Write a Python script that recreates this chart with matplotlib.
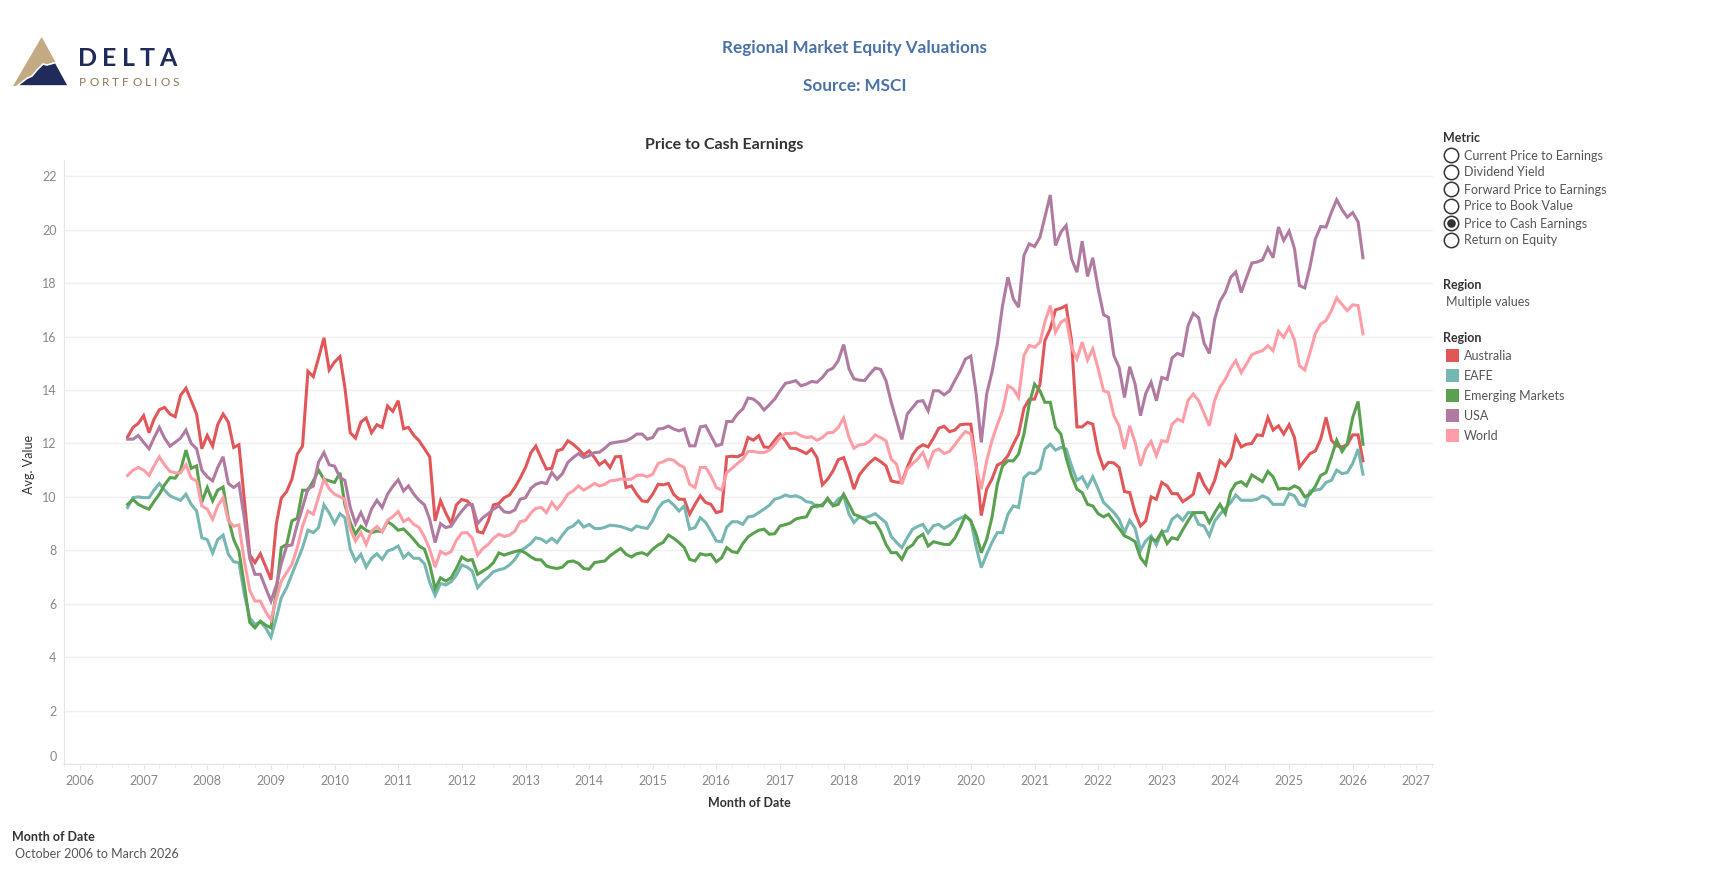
import numpy as np
import pandas as pd
import matplotlib
matplotlib.use('Agg')
import matplotlib.pyplot as plt
import matplotlib.dates as mdates
from matplotlib.patches import Polygon, Circle, Rectangle
from matplotlib.transforms import ScaledTranslation

plt.rcParams['font.family'] = ['Lato', 'DejaVu Sans']

# monthly values, October 2006 .. March 2026
months = pd.date_range('2006-10-01', '2026-03-01', freq='MS')

australia = [
    12.25, 12.6, 12.75, 13.04, 12.4, 12.9, 13.26, 13.35, 13.1, 13.0,
    13.8, 14.07, 13.6, 13.1, 11.8, 12.3, 11.9, 12.7, 13.1, 12.8,
    11.85, 11.95, 9.9, 7.83, 7.54, 7.87, 7.4, 6.9, 9.0, 9.95,
    10.2, 10.66, 11.6, 11.9, 14.7, 14.5, 15.2, 15.95, 14.75, 15.05,
    15.25, 14.1, 12.4, 12.2, 12.8, 12.95, 12.4, 12.7, 12.6, 13.4,
    13.2, 13.6, 12.55, 12.6, 12.3, 12.1, 11.8, 11.5, 9.1, 9.85,
    9.4, 9.0, 9.7, 9.9, 9.85, 9.65, 8.7, 8.65, 9.1, 9.7,
    9.75, 9.97, 10.07, 10.35, 10.7, 11.1, 11.65, 11.9, 11.45, 11.04,
    11.07, 11.72, 11.79, 12.1, 11.97, 11.79, 11.57, 11.72, 11.47, 11.2,
    11.35, 11.1, 11.5, 11.51, 10.35, 10.41, 10.1, 9.85, 9.82, 10.1,
    10.47, 10.45, 10.5, 10.1, 9.91, 9.91, 9.35, 9.72, 10.04, 9.79,
    9.72, 9.41, 9.47, 11.5, 11.52, 11.5, 11.6, 12.22, 12.12, 12.29,
    11.87, 11.85, 12.12, 12.35, 12.1, 11.82, 11.81, 11.72, 11.62, 11.79,
    11.47, 10.45, 10.66, 10.97, 11.39, 11.47, 10.9, 10.29, 10.82, 11.07,
    11.29, 11.45, 11.32, 11.16, 10.6, 10.55, 10.54, 11.1, 11.57, 11.82,
    11.95, 11.87, 12.2, 12.57, 12.64, 12.44, 12.5, 12.7, 12.72, 12.72,
    11.2, 9.3, 10.29, 10.66, 11.19, 11.29, 11.54, 11.97, 12.35, 13.32,
    13.65, 13.66, 14.22, 15.85, 16.29, 17.0, 17.06, 17.16, 15.85, 12.62,
    12.62, 12.79, 12.72, 11.66, 11.07, 11.29, 11.27, 11.1, 10.2, 10.16,
    9.41, 8.91, 9.1, 10.0, 9.91, 10.54, 10.41, 10.12, 10.12, 9.82,
    9.95, 10.1, 10.91, 10.45, 10.16, 10.62, 11.35, 11.16, 11.45, 12.26,
    11.87, 11.97, 12.0, 12.32, 12.29, 12.97, 12.5, 12.66, 12.35, 12.7,
    12.22, 11.1, 11.37, 11.62, 11.72, 12.16, 12.97, 12.12, 11.91, 11.87,
    11.95, 12.32, 12.32, 11.35]

eafe = [
    9.6, 9.97, 10.0, 9.97, 9.97, 10.25, 10.5, 10.25, 10.04, 9.95,
    9.87, 10.1, 9.72, 9.47, 8.47, 8.4, 7.9, 8.4, 8.57, 7.85,
    7.57, 7.54, 6.35, 5.47, 5.22, 5.32, 5.1, 4.75, 5.47, 6.22,
    6.6, 7.1, 7.6, 8.1, 8.75, 8.66, 8.85, 9.7, 9.4, 9.0,
    9.37, 9.22, 8.04, 7.6, 7.85, 7.37, 7.7, 7.87, 7.66, 7.97,
    8.04, 8.16, 7.72, 7.89, 7.7, 7.7, 7.5, 6.8, 6.31, 6.76,
    6.7, 6.82, 7.07, 7.45, 7.37, 7.22, 6.6, 6.82, 7.0, 7.2,
    7.27, 7.32, 7.45, 7.66, 7.97, 8.1, 8.26, 8.47, 8.42, 8.29,
    8.45, 8.29, 8.57, 8.82, 8.91, 9.1, 8.87, 8.97, 8.82, 8.81,
    8.86, 8.94, 8.92, 8.89, 8.82, 8.75, 8.91, 8.85, 8.82, 9.12,
    9.57, 9.79, 9.87, 9.7, 9.47, 9.66, 8.79, 8.85, 9.22, 9.04,
    8.72, 8.35, 8.32, 8.87, 9.07, 9.07, 8.97, 9.25, 9.28, 9.41,
    9.54, 9.69, 9.91, 9.97, 10.07, 10.01, 10.04, 9.97, 9.82, 9.79,
    9.62, 9.72, 9.9, 9.7, 9.91, 10.04, 9.35, 9.04, 9.25, 9.22,
    9.28, 9.37, 9.2, 9.04, 8.52, 8.29, 8.1, 8.47, 8.79, 8.89,
    8.97, 8.65, 8.92, 8.97, 8.82, 8.94, 9.1, 9.2, 9.29, 9.12,
    8.12, 7.35, 7.85, 8.29, 8.66, 8.66, 9.35, 9.66, 9.6, 10.72,
    10.9, 10.87, 11.04, 11.79, 11.97, 11.75, 11.85, 11.79, 11.16, 10.62,
    10.75, 10.37, 10.75, 10.29, 9.79, 9.62, 9.41, 9.16, 8.66, 9.12,
    8.82, 8.0, 8.35, 8.54, 8.2, 8.69, 8.72, 9.16, 9.32, 9.12,
    9.41, 9.41, 8.97, 8.91, 8.54, 9.1, 9.35, 9.57, 9.79, 10.07,
    9.87, 9.87, 9.87, 9.91, 10.04, 9.95, 9.72, 9.72, 9.72, 10.12,
    10.04, 9.72, 9.66, 10.22, 10.25, 10.29, 10.54, 10.62, 11.0, 10.87,
    10.91, 11.25, 11.79, 10.85]

emerging = [
    9.72, 9.9, 9.72, 9.62, 9.54, 9.82, 10.1, 10.45, 10.72, 10.7,
    11.0, 11.75, 11.07, 11.16, 9.8, 10.35, 9.85, 10.25, 10.37, 9.2,
    8.4, 7.97, 6.7, 5.3, 5.1, 5.35, 5.2, 5.1, 6.47, 8.1,
    8.22, 9.1, 9.2, 10.25, 10.25, 10.6, 11.0, 10.66, 10.6, 10.54,
    10.9, 9.7, 9.04, 8.6, 8.9, 8.75, 8.66, 8.72, 8.7, 9.07,
    8.94, 8.75, 8.8, 8.62, 8.4, 8.16, 8.04, 7.47, 6.57, 6.97,
    6.85, 6.97, 7.32, 7.75, 7.62, 7.65, 7.1, 7.22, 7.35, 7.54,
    7.9, 7.82, 7.89, 7.95, 8.0, 7.9, 7.75, 7.65, 7.64, 7.41,
    7.35, 7.32, 7.37, 7.57, 7.6, 7.51, 7.32, 7.29, 7.54, 7.57,
    7.6, 7.79, 7.94, 8.07, 7.85, 7.75, 7.87, 7.91, 7.82, 8.04,
    8.2, 8.29, 8.57, 8.45, 8.29, 8.1, 7.66, 7.6, 7.87, 7.82,
    7.85, 7.57, 7.72, 8.1, 7.95, 7.91, 8.25, 8.5, 8.64, 8.75,
    8.79, 8.6, 8.62, 8.91, 8.96, 9.02, 9.17, 9.22, 9.25, 9.6,
    9.69, 9.66, 9.95, 9.66, 9.72, 10.1, 9.72, 9.35, 9.27, 9.16,
    9.02, 9.04, 8.72, 8.22, 7.91, 7.91, 7.66, 8.07, 8.2, 8.47,
    8.6, 8.16, 8.32, 8.27, 8.22, 8.22, 8.45, 8.85, 9.29, 9.1,
    8.6, 7.91, 8.41, 9.22, 10.47, 11.16, 11.35, 11.35, 11.6, 12.35,
    13.47, 14.22, 13.97, 13.54, 13.54, 12.6, 12.35, 11.47, 10.79, 10.29,
    10.16, 9.72, 9.66, 9.37, 9.25, 9.35, 9.07, 8.82, 8.54, 8.45,
    8.32, 7.72, 7.47, 8.45, 8.35, 8.7, 8.25, 8.47, 8.41, 8.76,
    9.1, 9.41, 9.41, 9.41, 9.04, 9.41, 9.72, 9.37, 10.2, 10.5,
    10.57, 10.41, 10.82, 10.7, 10.57, 10.95, 10.75, 10.29, 10.32, 10.29,
    10.41, 10.32, 10.0, 10.1, 10.4, 10.8, 10.91, 11.5, 12.12, 11.7,
    12.0, 12.97, 13.57, 11.97]

usa = [
    12.16, 12.16, 12.3, 12.04, 11.8, 12.2, 12.6, 12.2, 11.9, 12.04,
    12.2, 12.5, 12.0, 11.8, 11.0, 10.75, 10.6, 11.1, 11.5, 10.5,
    10.35, 10.5, 9.2, 7.7, 7.1, 7.1, 6.6, 6.1, 6.7, 7.5,
    8.16, 8.2, 8.97, 9.6, 10.3, 10.4, 11.3, 11.66, 11.2, 11.15,
    10.72, 10.62, 9.6, 9.0, 9.41, 8.97, 9.54, 9.87, 9.6, 10.1,
    10.39, 10.64, 10.22, 10.41, 10.1, 9.87, 9.7, 9.16, 8.29, 9.0,
    8.85, 8.9, 9.2, 9.47, 9.7, 9.72, 9.0, 9.22, 9.37, 9.54,
    9.66, 9.44, 9.41, 9.51, 9.91, 9.97, 10.32, 10.47, 10.54, 10.5,
    10.91, 10.66, 10.87, 11.29, 11.47, 11.62, 11.47, 11.54, 11.66, 11.67,
    11.82, 12.0, 12.04, 12.07, 12.1, 12.2, 12.35, 12.35, 12.16, 12.22,
    12.54, 12.56, 12.65, 12.54, 12.47, 12.54, 11.91, 11.91, 12.62, 12.66,
    12.29, 11.91, 11.97, 12.82, 12.82, 13.1, 13.29, 13.7, 13.66, 13.5,
    13.25, 13.45, 13.66, 13.97, 14.25, 14.29, 14.35, 14.16, 14.22, 14.32,
    14.29, 14.47, 14.72, 14.82, 15.1, 15.7, 14.79, 14.42, 14.37, 14.35,
    14.6, 14.82, 14.77, 14.35, 13.54, 12.85, 12.15, 13.1, 13.35, 13.57,
    13.6, 13.22, 13.97, 13.97, 13.82, 13.97, 14.35, 14.72, 15.16, 15.27,
    13.85, 12.04, 13.85, 14.66, 15.72, 17.16, 18.22, 17.41, 17.1, 19.04,
    19.47, 19.37, 19.72, 20.47, 21.3, 19.41, 19.91, 20.16, 18.91, 18.41,
    19.57, 18.25, 18.95, 17.79, 16.82, 16.72, 15.29, 14.85, 13.72, 14.87,
    14.22, 13.04, 13.87, 14.29, 13.6, 14.47, 14.4, 15.2, 15.37, 15.29,
    16.41, 16.87, 16.7, 15.75, 15.37, 16.66, 17.32, 17.66, 18.22, 18.42,
    17.65, 18.2, 18.75, 18.79, 18.87, 19.32, 18.95, 20.1, 19.6, 19.95,
    19.29, 17.91, 17.82, 18.62, 19.66, 20.12, 20.1, 20.66, 21.12, 20.75,
    20.47, 20.64, 20.29, 18.95]

world = [
    10.8, 11.0, 11.1, 11.0, 10.8, 11.15, 11.5, 11.2, 10.95, 10.9,
    10.9, 11.2, 10.7, 10.6, 9.66, 9.54, 9.16, 9.66, 9.97, 9.1,
    8.9, 8.95, 7.6, 6.5, 6.1, 6.1, 5.7, 5.4, 6.2, 6.85,
    7.16, 7.47, 8.1, 8.9, 9.47, 9.35, 10.0, 10.66, 10.3, 10.1,
    10.0, 9.91, 8.79, 8.35, 8.66, 8.22, 8.72, 8.89, 8.69, 9.12,
    9.26, 9.45, 9.07, 9.19, 8.97, 8.85, 8.5, 8.04, 7.37, 7.95,
    7.85, 7.95, 8.37, 8.65, 8.66, 8.45, 7.82, 8.07, 8.22, 8.45,
    8.6, 8.52, 8.57, 8.72, 9.07, 9.12, 9.4, 9.57, 9.6, 9.41,
    9.79, 9.54, 9.79, 10.1, 10.22, 10.41, 10.25, 10.37, 10.5, 10.41,
    10.47, 10.6, 10.62, 10.67, 10.65, 10.66, 10.8, 10.82, 10.75, 10.85,
    11.25, 11.31, 11.41, 11.37, 11.2, 11.1, 10.47, 10.35, 11.1, 11.1,
    10.79, 10.35, 10.25, 10.91, 11.07, 11.25, 11.41, 11.7, 11.7, 11.66,
    11.66, 11.75, 11.95, 12.22, 12.37, 12.37, 12.4, 12.29, 12.22, 12.25,
    12.12, 12.22, 12.4, 12.41, 12.6, 12.95, 12.22, 11.82, 11.95, 11.97,
    12.1, 12.32, 12.22, 12.1, 11.41, 11.22, 10.47, 11.04, 11.25, 11.41,
    11.66, 11.16, 11.7, 11.79, 11.62, 11.7, 11.95, 12.22, 12.45, 12.35,
    11.12, 10.29, 11.35, 12.1, 12.7, 13.22, 14.16, 14.04, 13.72, 15.29,
    15.67, 15.6, 15.79, 16.54, 17.16, 16.16, 16.54, 16.66, 15.6, 15.16,
    15.79, 15.12, 15.54, 14.79, 13.97, 13.91, 13.04, 12.66, 11.79, 12.66,
    12.04, 11.16, 11.79, 12.07, 11.54, 12.1, 12.07, 12.72, 12.91, 12.82,
    13.62, 13.85, 13.6, 13.12, 12.66, 13.62, 14.1, 14.41, 14.82, 15.1,
    14.65, 14.97, 15.32, 15.41, 15.47, 15.66, 15.47, 16.2, 15.97, 16.35,
    15.87, 14.91, 14.75, 15.41, 16.12, 16.47, 16.6, 16.97, 17.45, 17.2,
    16.97, 17.19, 17.16, 16.1]

regions = ['Australia', 'EAFE', 'Emerging Markets', 'USA', 'World']
colors = ['#e15759', '#76b7b2', '#59a14f', '#b07aa1', '#ff9da7']
metrics = ['Current Price to Earnings', 'Dividend Yield', 'Forward Price to Earnings',
           'Price to Book Value', 'Price to Cash Earnings', 'Return on Equity']
years = list(range(2006, 2028))

W, H = 1709, 896
fig = plt.figure(figsize=(W / 100, H / 100), dpi=100)
fig.patch.set_facecolor('white')

# plot area in pixels: left 63.5, right 1432.5, top 160, bottom (zero line) 764
ax = fig.add_axes([63.5 / W, 1 - 764 / H, (1432.5 - 63.5) / W, (764 - 160) / H])
series = [australia, eafe, emerging, usa, world]
for vals, c in zip(series, colors):
    ax.plot(months, vals, color=c, lw=2.2, solid_joinstyle='miter')

ax.set_ylim(0, 22.61)
ax.set_xlim(pd.Timestamp('2005-09-28'), pd.Timestamp('2027-04-04'))
ax.set_yticks(range(0, 23, 2))
ax.set_xticks([pd.Timestamp(f'{y}-01-01') for y in years])
ax.set_xticklabels([str(y) for y in years])
ax.xaxis.set_minor_locator(mdates.MonthLocator(bymonth=[4, 7, 10]))
ax.grid(axis='y', color='#efefef', lw=1)
ax.set_axisbelow(True)
for s in ['top', 'right']:
    ax.spines[s].set_visible(False)
ax.spines['left'].set_color('#e6e6e6')
ax.spines['bottom'].set_color('#e6e6e6')
ax.tick_params(axis='y', length=0, pad=5, labelsize=9, labelcolor='#888888')
ax.tick_params(axis='x', which='major', length=4, color='#e6e6e6', pad=4,
               labelsize=9, labelcolor='#888888')
ax.tick_params(axis='x', which='minor', length=3, color='#eeeeee')
zero_lab = ax.yaxis.get_major_ticks()[0].label1
zero_lab.set_transform(zero_lab.get_transform() + ScaledTranslation(0, 6 / 72, fig.dpi_scale_trans))

# overlay in pixel coordinates for titles, legend, logo
ov = fig.add_axes([0, 0, 1, 1])
ov.set_xlim(0, W)
ov.set_ylim(H, 0)
ov.axis('off')
renderer = fig.canvas.get_renderer()


def spaced(x, y, s, track, **kw):
    # draw letters one by one with extra tracking
    for ch in s:
        t = ov.text(x, y, ch, ha='left', va='center', **kw)
        x += t.get_window_extent(renderer).width + track


blue = '#4a72a8'
ov.text(855, 48, 'Regional Market Equity Valuations', ha='center', va='center',
        fontsize=12.3, fontweight='bold', color=blue)
ov.text(855, 86, 'Source: MSCI', ha='center', va='center',
        fontsize=12.3, fontweight='bold', color=blue)
ov.text(724, 145, 'Price to Cash Earnings', ha='center', va='center',
        fontsize=11.5, fontweight='bold', color='#333333')
ov.text(29, 464, 'Avg. Value', ha='center', va='center', rotation=90,
        fontsize=9, color='#333333')
ov.text(749, 803, 'Month of Date', ha='center', va='center',
        fontsize=9, fontweight='bold', color='#333333')
ov.text(12, 837, 'Month of Date', ha='left', va='center',
        fontsize=9, fontweight='bold', color='#333333')
ov.text(15, 854, 'October 2006 to March 2026', ha='left', va='center',
        fontsize=9, color='#555555')

# metric radio list
lx = 1443.5
ov.text(lx, 138, 'Metric', ha='left', va='center', fontsize=9, fontweight='bold', color='#333333')
row_y = [155.5, 172.5, 189.5, 206.5, 223.5, 240.5]
for name, yy in zip(metrics, row_y):
    ov.add_patch(Circle((lx + 8, yy), 7.2, facecolor='white', edgecolor='#333333', lw=1.1))
    if name == 'Price to Cash Earnings':
        ov.add_patch(Circle((lx + 8, yy), 4.3, facecolor='#333333', edgecolor='none'))
    ov.text(lx + 20, yy, name, ha='left', va='center', fontsize=9, color='#555555')

ov.text(lx, 285, 'Region', ha='left', va='center', fontsize=9, fontweight='bold', color='#333333')
ov.text(lx + 2, 302, 'Multiple values', ha='left', va='center', fontsize=9, color='#555555')

ov.text(lx, 338, 'Region', ha='left', va='center', fontsize=9, fontweight='bold', color='#333333')
leg_y = [356, 376, 396, 416, 436]
for name, c, yy in zip(regions, colors, leg_y):
    ov.add_patch(Rectangle((lx + 2.5, yy - 6.5), 13, 13, facecolor=c, edgecolor='none'))
    ov.text(lx + 20.5, yy, name, ha='left', va='center', fontsize=9, color='#555555')

# logo
navy = '#1f2b5b'
tan = '#c2aa83'
ov.add_patch(Polygon([(13, 86), (41.7, 37), (68.5, 86)], closed=True,
                     facecolor=tan, edgecolor='none'))
ov.add_patch(Polygon([(17, 86), (27, 78.3), (32, 76), (37, 70), (43, 64), (47, 65),
                      (55.6, 62.5), (68.5, 86)], closed=True,
                     facecolor=navy, edgecolor='white', lw=1.2))
spaced(78, 59, 'DELTA', 5.0, fontsize=18, fontweight='bold', color=navy)
spaced(79, 82, 'PORTFOLIOS', 3.2, fontsize=8.5, color='#8d7556')

fig.savefig('out.png', dpi=100)
